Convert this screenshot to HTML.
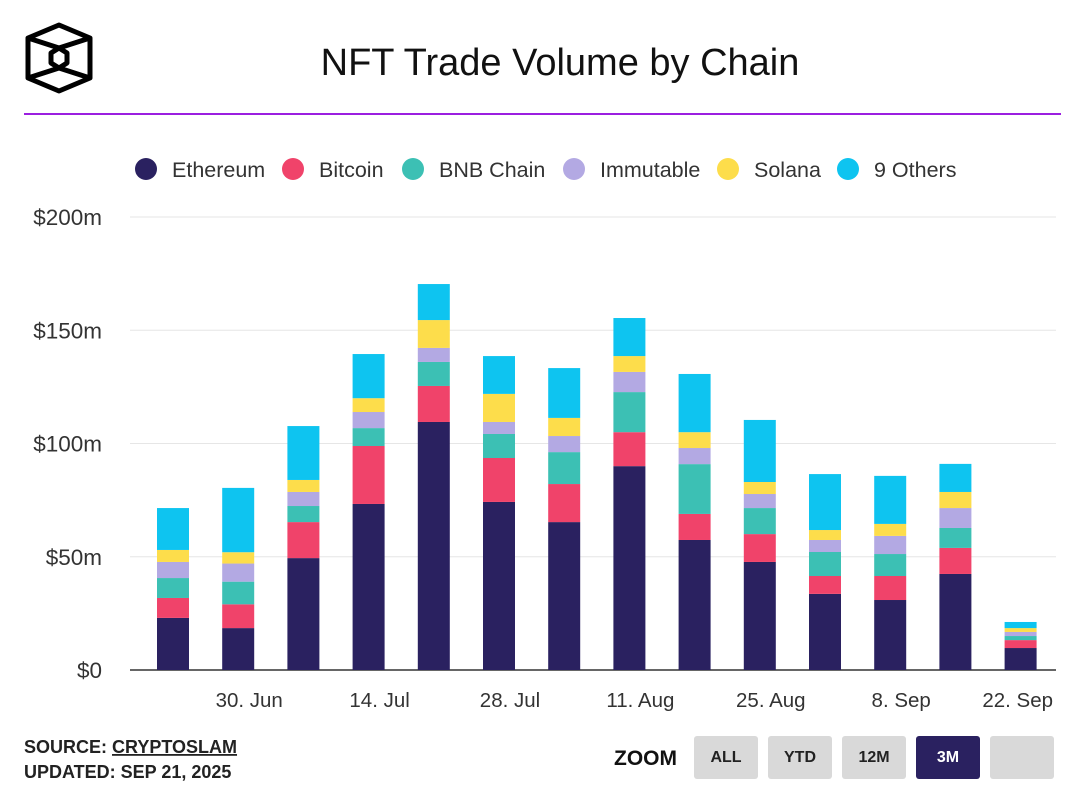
<!DOCTYPE html>
<html><head><meta charset="utf-8">
<style>
body{margin:0;background:#fff;font-family:"Liberation Sans",sans-serif;}
#wrap{position:relative;width:1084px;height:794px;overflow:hidden;}
.btn{position:absolute;top:736px;width:64px;height:43px;background:#d9d9d9;border-radius:3px;font:bold 16px "Liberation Sans",sans-serif;color:#222;display:flex;align-items:center;justify-content:center;}
</style></head><body>
<div id="wrap">
<svg width="1084" height="794" id="svg">
<g fill="none" stroke="#000" stroke-width="5" stroke-linejoin="round">
<polygon points="59,25 90,38 90,78 59,91 28,78 28,38"/>
<polyline points="28,38 59,48 90,38"/>
<polyline points="28,78 59,68 90,78"/>
<polygon points="59,48 67,53 67,63 59,68 51,63 51,53"/>
</g>
<text x="560" y="75" text-anchor="middle" font-size="38" fill="#111">NFT Trade Volume by Chain</text>
<rect x="24" y="113" width="1037" height="2" fill="#9b1fe0"/>
<g id="legend"></g>
<g id="grid"></g>
<g id="bars"></g>
<g id="xaxis"></g>
<text x="24" y="753" font-size="18" font-weight="bold" fill="#222">SOURCE: <tspan text-decoration="underline">CRYPTOSLAM</tspan></text>
<text x="24" y="778" font-size="18" font-weight="bold" fill="#222">UPDATED: SEP 21, 2025</text>
<text x="614" y="765" font-size="21" font-weight="bold" fill="#111">ZOOM</text>
</svg>
<div class="btn" style="left:694px">ALL</div>
<div class="btn" style="left:768px">YTD</div>
<div class="btn" style="left:842px">12M</div>
<div class="btn" style="left:916px;background:#2a2160;color:#fff">3M</div>
<div class="btn" style="left:990px"></div>
</div>
<script>
const seriesNames=["Ethereum","Bitcoin","BNB Chain","Immutable","Solana","9 Others"];
const seriesColors=["#2a2160","#f0436a","#3cc0b4","#b3a9e3","#fddd4b","#0ec4f0"];
const ethereum=[23,18.5,49.4,73.3,109.5,74.2,65.3,90,57.4,47.7,33.6,30.9,42.4,9.7];
const bitcoin=[8.8,10.5,15.9,25.6,15.9,19.4,16.8,15,11.5,12.3,7.9,10.6,11.5,3.5];
const bnbChain=[8.8,10,7.1,7.9,10.6,10.6,14.1,17.7,22,11.5,10.6,9.7,8.8,1.8];
const immutable=[7.1,8,6.2,7.1,6.2,5.3,7.1,8.9,7.1,6.2,5.3,8,8.8,1.8];
const solana=[5.3,5,5.3,6.1,12.3,12.4,8,7,7,5.3,4.4,5.3,7.1,1.7];
const others=[18.5,28.4,23.8,19.5,15.9,16.7,22,16.8,25.7,27.4,24.7,21.2,12.4,2.7];
const yTicks=[0,50,100,150,200];
const yTickLabels=["$0","$50m","$100m","$150m","$200m"];
const xLabels=["30. Jun","14. Jul","28. Jul","11. Aug","25. Aug","8. Sep","22. Sep"];
const xLabelIdx=[1,3,5,7,9,11,13];
const series=[ethereum,bitcoin,bnbChain,immutable,solana,others];
const NS="http://www.w3.org/2000/svg";
function mk(t,a,p){const e=document.createElementNS(NS,t);for(const k in a)e.setAttribute(k,a[k]);p.appendChild(e);return e;}
const y=v=>670-v*(453/200);
const x=i=>173+i*65.2;
const grid=document.getElementById('grid');
yTicks.forEach((t,i)=>{
 const l=mk('line',{x1:130,x2:1056,y1:y(t),y2:y(t),stroke:t===0?'#333':'#e6e6e6','stroke-width':t===0?1.5:1},grid);
 
 
 const tx=mk('text',{x:102,y:y(t)+8,'text-anchor':'end','font-size':22.5,fill:'#333'},grid);
 tx.textContent=yTickLabels[i];
 
 
});
const bars=document.getElementById('bars');
for(let i=0;i<ethereum.length;i++){
 let c=0;
 series.forEach((s,k)=>{
  const r=mk('rect',{x:x(i)-16,y:y(c+s[i]),width:32,height:y(c)-y(c+s[i]),fill:seriesColors[k]},bars);
  
  
  c+=s[i];
 });
}
const xa=document.getElementById('xaxis');
xLabels.forEach((lb,j)=>{
 const last=j===xLabels.length-1;
 const t=mk('text',{x:last?1053:x(xLabelIdx[j])+11,y:707,'text-anchor':last?'end':'middle','font-size':20.5,fill:'#333'},xa);
 t.textContent=lb;
 
 
});
const lg=document.getElementById('legend');
const lx=[146,293,413,574,728,848];
seriesNames.forEach((n,k)=>{
 const g=mk('g',{},lg);
 
 
 mk('circle',{cx:lx[k],cy:169,r:11,fill:seriesColors[k]},g);
 const t=mk('text',{x:lx[k]+26,y:177,'font-size':21.5,fill:'#333'},g);
 t.textContent=n;
});
</script>
</body></html>
